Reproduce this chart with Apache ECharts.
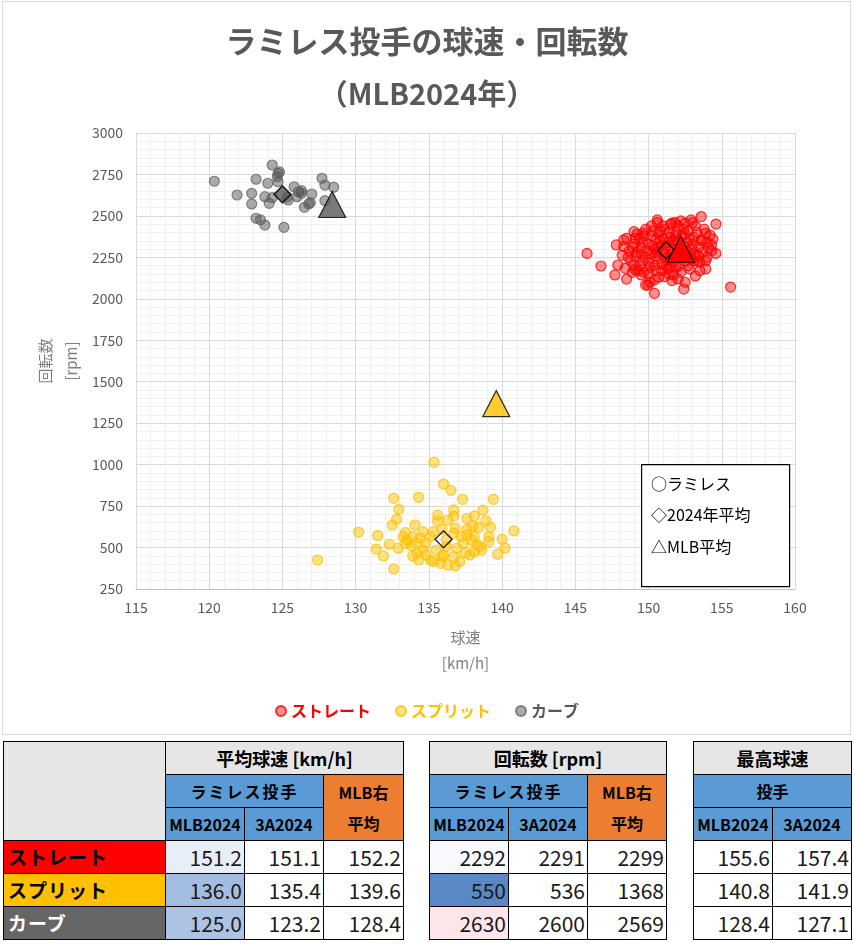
<!DOCTYPE html>
<html><head><meta charset="utf-8">
<script src="https://cdn.jsdelivr.net/npm/echarts@6/dist/echarts.min.js"></script>
<style>
html,body{margin:0;padding:0;background:#fff;}
#frame{position:absolute;left:2px;top:1px;width:849px;height:734px;border:1px solid #d9d9d9;box-sizing:border-box;}
#chart{position:absolute;left:0;top:0;width:854px;height:738px;}
table.t{position:absolute;top:741px;border-collapse:collapse;table-layout:fixed;font-family:"Noto Sans CJK JP",sans-serif;}
table.t tr{height:33px;}
table.t td{border:1.5px solid #000;box-sizing:border-box;height:33px;line-height:20px;padding:0;text-align:center;font-weight:bold;font-size:16px;color:#000;overflow:hidden;white-space:nowrap;}
table.t td.num{text-align:right;font-weight:normal;font-size:21px;padding-right:2px;color:#1a1a1a;}
td.g{background:#e6e6e6;} td.b{background:#5b9bd5;} td.o{background:#ed7d31;}
</style></head>
<body>
<div id="frame"></div>
<div id="chart"></div>
<div id="tables"></div>
<script>
// ---------- data ----------
const pitchTypes = ['ストレート','スプリット','カーブ'];
const straightPts = [
[145.8,2274],[146.75,2198],[147.7,2144],[148.5,2119],[147.8,2325],[147.9,2204],[148.3,2355],[148.5,2365],[149.0,2405],[149.1,2365],
[149.6,2396],[150.6,2476],[151.6,2456],[152.5,2456],[152.9,2476],[153.6,2496],[154.6,2451],[154.2,2385],[154.6,2274],[153.9,2180],
[153.4,2228],[153.2,2138],[152.5,2100],[152.4,2059],[150.4,2033],[149.8,2083],[149.95,2083],[155.6,2071],[151.7,2144],[151.1,2134],
[150.4,2114],[149.5,2144],[149.1,2174],[148.4,2184],[148.2,2264],[148.3,2315],[154.1,2305],[154.3,2325],[153.6,2355],[153.9,2396],
[149.2,2280],[149.5,2310],[149.8,2250],[150.0,2330],[150.2,2270],[150.4,2300],[150.6,2240],[150.8,2350],[151.0,2280],[151.2,2320],
[151.4,2260],[151.6,2300],[151.8,2340],[152.0,2280],[152.2,2250],[152.4,2320],[152.6,2290],[152.8,2360],[153.0,2300],[153.2,2270],
[148.8,2230],[149.0,2330],[149.4,2200],[149.7,2380],[150.1,2190],[150.3,2410],[150.5,2170],[150.7,2390],[150.9,2210],[151.1,2420],
[151.3,2180],[151.5,2370],[151.7,2220],[151.9,2400],[152.1,2200],[152.3,2380],[152.5,2230],[152.7,2410],[152.9,2240],[153.1,2370],
[149.1,2260],[149.6,2340],[150.0,2220],[150.5,2360],[150.9,2320],[151.3,2230],[151.7,2350],[152.1,2310],[152.5,2260],[153.0,2330],
[153.4,2310],[153.7,2280],[154.0,2250],[153.5,2220],[153.3,2400],[152.0,2440],[151.5,2450],[151.0,2440],[150.2,2440],[149.8,2420],
[149.3,2170],[150.0,2150],[150.7,2130],[151.4,2150],[152.2,2160],[152.8,2180],[153.5,2170],[148.9,2310],[148.7,2290],[149.4,2360],
[150.6,2280],[151.1,2250],[151.6,2270],[152.3,2290],[152.9,2270],[153.6,2350],[154.0,2340],[154.3,2290],[149.9,2290],[150.3,2320],
[151.0,2360],[151.8,2380],[152.6,2340],[150.4,2200],[151.2,2200],[151.9,2190],[152.7,2200],[149.6,2230],[150.8,2410],[152.4,2420],
[153.2,2440],[153.8,2420],[149.2,2390],[148.6,2250],[149.0,2200],[150.6,2460],[151.8,2460],[152.2,2470],[153.0,2460],[150.1,2100],
[150.9,2170],[151.6,2110],[152.0,2120],[149.7,2160],[148.9,2160],[153.9,2230],[154.4,2360],[153.4,2260],[152.5,2390],[151.4,2400],
[150.2,2380],[149.5,2270],[150.7,2310],[151.3,2340],[152.0,2350],[152.7,2260],[153.1,2230],[151.5,2190],[150.5,2260],[151.9,2250]
];
const splitPts = [
[135.35,1014],[136.0,883],[136.5,845],[137.3,791],[139.4,791],[132.6,797],[134.3,803],[132.95,730],[132.8,670],[132.5,636],
[130.2,592],[131.5,573],[131.4,491],[131.9,449],[132.6,371],[127.4,425],[132.3,520],[140.8,600],[140.0,550],[140.2,496],
[139.7,460],[138.7,725],[138.9,660],[139.2,622],[139.1,566],[139.1,536],[138.1,690],[137.6,675],[136.7,727],[136.7,690],
[135.6,695],[135.6,660],[136.3,666],[136.8,616],[137.6,610],[138.0,630],[138.4,622],[134.05,636],[133.4,590],[133.25,566],
[133.9,566],[132.9,496],[133.4,526],[133.8,510],[133.9,449],[134.3,425],[135.1,425],[135.3,415],[135.8,405],[136.3,395],
[136.8,389],[137.1,415],[136.0,455],[136.7,445],[137.8,455],[138.1,475],[138.6,485],[138.3,515],[137.9,546],[137.35,526],
[137.2,566],[136.2,546],[135.1,566],[134.8,526],[134.6,485],[135.5,485],[136.2,506],[136.9,496],[134.4,556],[134.6,596],
[135.3,596],[135.9,610],[136.7,586],[133.5,546],[134.2,526],[134.2,465],[134.8,455],[135.9,445],[137.5,465],[138.5,506],
[137.6,576],[138.1,566]
];
const curvePts = [
[120.35,2709],[124.3,2807],[124.7,2757],[124.8,2765],[124.65,2737],[124.7,2706],[123.2,2721],[124.0,2697],[121.9,2626],[122.9,2636],
[122.9,2572],[123.8,2616],[124.1,2576],[124.3,2610],[125.8,2676],[126.1,2646],[126.3,2652],[126.3,2636],[126.0,2616],[125.4,2596],
[125.3,2612],[127.0,2632],[126.8,2572],[126.9,2580],[126.5,2552],[127.7,2727],[127.9,2686],[128.5,2673],[127.9,2592],[123.2,2486],
[123.5,2476],[123.8,2445],[125.1,2431]
];
// table values
const speedAvgMLB2024 = [151.2, 136.0, 125.0];
const speedAvg3A2024  = [151.1, 135.4, 123.2];
const speedAvgMLBRHP  = [152.2, 139.6, 128.4];
const spinMLB2024 = [2292, 550, 2630];
const spin3A2024  = [2291, 536, 2600];
const spinMLBRHP  = [2299, 1368, 2569];
const maxSpeedMLB2024 = [155.6, 140.8, 128.4];
const maxSpeed3A2024  = [157.4, 141.9, 127.1];

// ---------- chart ----------
const FONT = '"Noto Sans CJK JP", sans-serif';
const fills = ['rgba(255,0,0,0.55)','rgba(255,192,0,0.6)','rgba(80,80,80,0.6)'];
const borders = ['#ff0000','#ffc000','#666666'];
const solid = ['#ff0000','#ffc000','#595959'];
const legendText = ['#ff0000','#ffc000','#595959'];
const ptsList = [straightPts, splitPts, curvePts];

const series = [];
pitchTypes.forEach((name,i)=>{
  series.push({name, type:'scatter', data:ptsList[i], symbol:'circle', symbolSize:10,
    itemStyle:{color:fills[i], borderColor:borders[i], borderWidth:1.2}, z:2});
});
pitchTypes.forEach((name,i)=>{
  series.push({name:name+'2024平均', type:'scatter', data:[[speedAvgMLB2024[i], spinMLB2024[i]]],
    symbol:'diamond', symbolSize:17,
    itemStyle:{color: i===2 ? '#595959' : 'rgba(0,0,0,0)', borderColor:'#000', borderWidth:1.5}, z:4});
  series.push({name:name+'MLB平均', type:'scatter', data:[[speedAvgMLBRHP[i], spinMLBRHP[i]]],
    symbol:'triangle', symbolSize:[27,26],
    itemStyle:{color:solid[i], borderColor:'#000', borderWidth:1.2}, z:5});
});

const chart = echarts.init(document.getElementById('chart'));
chart.setOption({
  animation:false,
  backgroundColor:'transparent',
  title:[
    {text:'ラミレス投手の球速・回転数', left:'center', top:21, textStyle:{fontFamily:FONT, fontSize:31, fontWeight:'bold', color:'#595959'}},
    {text:'（MLB2024年）', left:'center', top:74, textStyle:{fontFamily:FONT, fontSize:29, fontWeight:'bold', color:'#595959'}}
  ],
  grid:{left:136, right:59, top:133, height:456},
  xAxis:{type:'value', min:115, max:160, interval:5,
    name:'球速\n[km/h]', nameLocation:'middle', nameGap:35, nameMoveOverlap:false,
    nameTextStyle:{fontFamily:FONT, fontSize:15, color:'#7f7f7f', lineHeight:26},
    axisLine:{show:true, lineStyle:{color:'#bfbfbf'}}, axisTick:{show:false},
    axisLabel:{margin:12, fontFamily:FONT, fontSize:14, color:'#595959'},
    splitLine:{show:true, lineStyle:{color:'#d9d9d9'}},
    minorTick:{show:false, splitNumber:5},
    minorSplitLine:{show:true, lineStyle:{color:'#f0f0f0'}}
  },
  yAxis:{type:'value', min:250, max:3000, interval:250,
    name:'回転数\n[rpm]', nameLocation:'middle', nameGap:52, nameRotate:90, nameMoveOverlap:false,
    nameTextStyle:{fontFamily:FONT, fontSize:15, color:'#7f7f7f', lineHeight:26},
    axisLine:{show:true, lineStyle:{color:'#d9d9d9'}}, axisTick:{show:false},
    axisLabel:{margin:13, fontFamily:FONT, fontSize:14, color:'#595959', formatter:(v)=>String(v)},
    splitLine:{show:true, lineStyle:{color:'#d9d9d9'}},
    minorTick:{show:false, splitNumber:5},
    minorSplitLine:{show:true, lineStyle:{color:'#f0f0f0'}}
  },
  legend:{data:pitchTypes.map((n,i)=>({name:n, icon:'circle', textStyle:{color:legendText[i]}})),
    left:'center', top:698, itemWidth:10, itemHeight:10, itemGap:24,
    textStyle:{fontFamily:FONT, fontSize:16, fontWeight:'bold'}},
  graphic:[
    {type:'rect', left:641, top:464, shape:{width:148, height:122}, style:{fill:'#fff', stroke:'#000', lineWidth:1.2}, z:10},
    {type:'text', left:651, top:476, style:{text:'○ラミレス', font:'16px '+FONT, fill:'#000'}, z:11},
    {type:'text', left:651, top:507, style:{text:'◇2024年平均', font:'16px '+FONT, fill:'#000'}, z:11},
    {type:'text', left:651, top:539, style:{text:'△MLB平均', font:'16px '+FONT, fill:'#000'}, z:11}
  ],
  series
});

// ---------- tables ----------
const rowBg = ['#ff0000','#ffc000','#666666'];
const rowFg = ['#000','#000','#fff'];
const t1Shade = ['#e8eef8','#a3bde0','#acc3e3'];
const t2Shade = ['#f7f9fd','#5a87c6','#fde6ea'];
function fmt1(v){return v.toFixed(1);}
const twoLine = 'class="o" rowspan="2" style="line-height:31px"';
const hdrSub = 'class="b" style="font-size:16px"';
let h = '';
// table 1
h += '<table class="t" style="left:3px;width:400px"><colgroup><col style="width:162px"><col style="width:79px"><col style="width:79px"><col style="width:80px"></colgroup>';
h += '<tr><td class="g" rowspan="3"></td><td class="g" colspan="3" style="font-size:18px">平均球速 [km/h]</td></tr>';
h += `<tr><td class="b" colspan="2" style="letter-spacing:2px">ラミレス投手</td><td ${twoLine}>MLB右<br>平均</td></tr>`;
h += `<tr><td ${hdrSub}>MLB2024</td><td ${hdrSub}>3A2024</td></tr>`;
for(let i=0;i<3;i++){
  h += `<tr><td style="background:${rowBg[i]};color:${rowFg[i]};text-align:left;padding-left:4px;font-size:19px;letter-spacing:1px">${pitchTypes[i]}</td>`+
       `<td class="num" style="background:${t1Shade[i]}">${fmt1(speedAvgMLB2024[i])}</td><td class="num">${fmt1(speedAvg3A2024[i])}</td><td class="num">${fmt1(speedAvgMLBRHP[i])}</td></tr>`;
}
h += '</table>';
// table 2
h += '<table class="t" style="left:429px;width:237px"><colgroup><col style="width:79px"><col style="width:79px"><col style="width:79px"></colgroup>';
h += '<tr><td class="g" colspan="3" style="font-size:18px">回転数 [rpm]</td></tr>';
h += `<tr><td class="b" colspan="2" style="letter-spacing:2px">ラミレス投手</td><td ${twoLine}>MLB右<br>平均</td></tr>`;
h += `<tr><td ${hdrSub}>MLB2024</td><td ${hdrSub}>3A2024</td></tr>`;
for(let i=0;i<3;i++){
  h += `<tr><td class="num" style="background:${t2Shade[i]}">${spinMLB2024[i]}</td><td class="num">${spin3A2024[i]}</td><td class="num">${spinMLBRHP[i]}</td></tr>`;
}
h += '</table>';
// table 3
h += '<table class="t" style="left:693px;width:158px"><colgroup><col style="width:79px"><col style="width:79px"></colgroup>';
h += '<tr><td class="g" colspan="2" style="font-size:18px">最高球速</td></tr>';
h += '<tr><td class="b" colspan="2">投手</td></tr>';
h += `<tr><td ${hdrSub}>MLB2024</td><td ${hdrSub}>3A2024</td></tr>`;
for(let i=0;i<3;i++){
  h += `<tr><td class="num">${fmt1(maxSpeedMLB2024[i])}</td><td class="num">${fmt1(maxSpeed3A2024[i])}</td></tr>`;
}
h += '</table>';
document.getElementById('tables').innerHTML = h;
</script>
</body></html>
